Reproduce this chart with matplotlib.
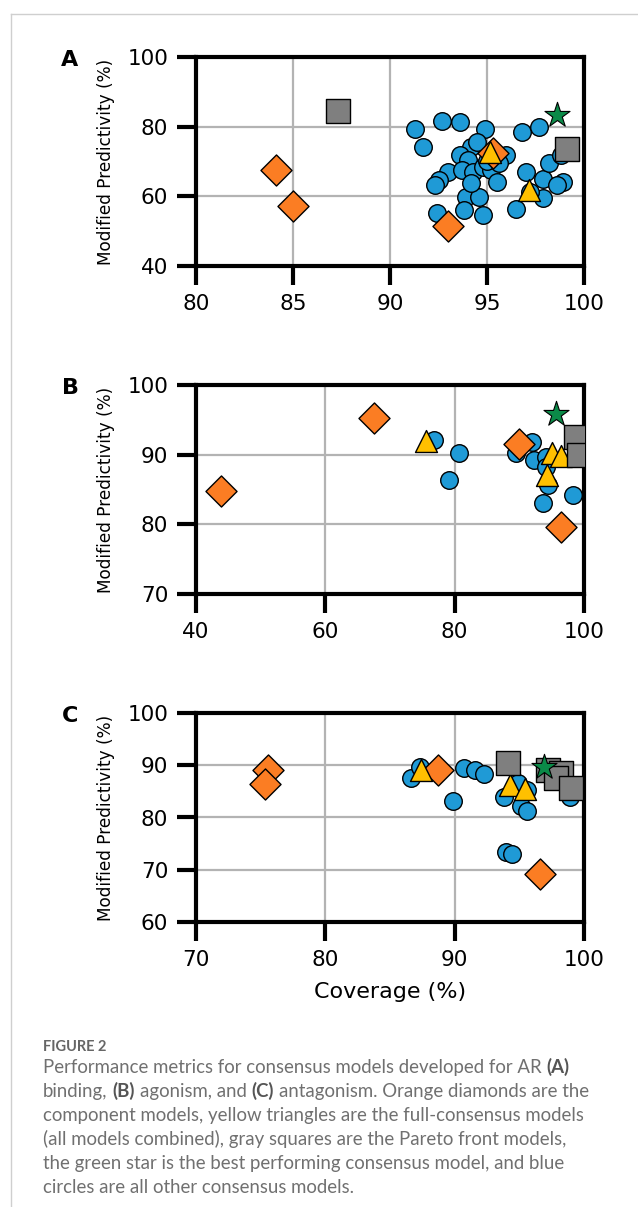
import matplotlib
matplotlib.use("Agg")
import matplotlib.pyplot as plt
from matplotlib.lines import Line2D

# ---- data: (coverage, modified predictivity) ----
# panel A : binding
a_other_x = [91.3, 91.7, 92.7, 93.6, 94.9, 96.8, 97.7, 94.2, 94.5, 93.6, 94.0, 93.0, 93.7, 92.5,
             92.3, 94.3, 94.8, 95.2, 95.5, 96.0, 93.9, 94.6, 93.8, 94.8, 92.4, 94.2, 97.0, 97.9,
             98.2, 98.8, 98.9, 98.6, 97.9, 96.5, 97.2, 95.0, 95.6]
a_other_y = [79.2, 74.2, 81.7, 81.3, 79.2, 78.4, 80.0, 74.2, 75.7, 71.8, 70.4, 67.0, 67.5, 64.7,
             63.2, 67.0, 68.5, 67.5, 64.2, 71.8, 59.9, 59.9, 56.0, 54.6, 55.1, 63.7, 67.0, 64.9,
             69.5, 71.8, 64.2, 63.2, 59.4, 56.5, 61.3, 70.0, 69.5]
a_comp_x = [84.1, 85.0, 93.0, 95.3]
a_comp_y = [67.6, 57.3, 51.6, 72.3]
a_full_x = [95.15, 97.15]
a_full_y = [72.8, 61.8]
a_pareto_x = [87.3, 99.1]
a_pareto_y = [84.5, 73.5]
a_best_x = [98.6]
a_best_y = [83.3]

# panel B : agonism
b_other_x = [76.8, 80.6, 79.1, 92.0, 89.5, 92.3, 94.1, 94.1, 94.4, 93.6, 98.3]
b_other_y = [92.1, 90.2, 86.4, 91.8, 90.2, 89.2, 89.7, 88.2, 85.6, 83.1, 84.2]
b_comp_x = [43.8, 67.6, 89.9, 96.5]
b_comp_y = [84.8, 95.2, 91.5, 79.6]
b_full_x = [75.6, 95.0, 96.4, 94.3]
b_full_y = [91.9, 90.3, 89.8, 87.1]
b_pareto_x = [98.8, 99.3]
b_pareto_y = [92.5, 89.9]
b_best_x = [95.7]
b_best_y = [95.8]

# panel C : antagonism
c_other_x = [86.6, 87.35, 90.7, 91.6, 92.3, 89.9, 93.8, 95.1, 95.6, 95.6, 94.9, 98.9, 94.0, 94.4]
c_other_y = [87.6, 89.7, 89.5, 89.1, 88.3, 83.2, 84.0, 82.2, 81.3, 85.3, 86.6, 84.0, 73.4, 73.0]
c_comp_x = [75.6, 75.3, 88.7, 96.6]
c_comp_y = [89.0, 86.4, 89.0, 69.1]
c_full_x = [87.4, 94.3, 95.4]
c_full_y = [89.0, 86.2, 85.4]
c_pareto_x = [94.1, 97.2, 98.2, 97.8, 99.0]
c_pareto_y = [90.4, 89.1, 88.5, 87.5, 85.6]
c_best_x = [96.9]
c_best_y = [89.6]

panels = [
    ("A", (a_other_x, a_other_y), (a_comp_x, a_comp_y), (a_full_x, a_full_y),
     (a_pareto_x, a_pareto_y), (a_best_x, a_best_y),
     (80, 100), [80, 85, 90, 95, 100], (40, 100), [40, 60, 80, 100]),
    ("B", (b_other_x, b_other_y), (b_comp_x, b_comp_y), (b_full_x, b_full_y),
     (b_pareto_x, b_pareto_y), (b_best_x, b_best_y),
     (40, 100), [40, 60, 80, 100], (70, 100), [70, 80, 90, 100]),
    ("C", (c_other_x, c_other_y), (c_comp_x, c_comp_y), (c_full_x, c_full_y),
     (c_pareto_x, c_pareto_y), (c_best_x, c_best_y),
     (70, 100), [70, 80, 90, 100], (60, 100), [60, 70, 80, 90, 100]),
]

W, H = 638, 1207
fig = plt.figure(figsize=(W / 100, H / 100), dpi=100)

def px(x, y):
    return x / W, 1 - y / H

# axes boxes in pixels: left, top, right, bottom
boxes = [(196, 57, 584, 266), (196, 385, 584, 594), (196, 713, 584, 922)]

for (letter, other, comp, full, pareto, best, xl, xt, yl, yt), box in zip(panels, boxes):
    l, t, r, b = box
    ax = fig.add_axes([l / W, 1 - b / H, (r - l) / W, (b - t) / H])
    ax.set_axisbelow(True)
    ax.grid(True, color="#b3b3b3", lw=1.6)
    ax.scatter(*other, s=160, marker="o", color="#1f9ad6", edgecolor="black", lw=1, zorder=3)
    ax.scatter(*comp, s=250, marker="D", color="#fb7d23", edgecolor="black", lw=1, zorder=4)
    ax.scatter(*full, s=250, marker="^", color="#ffc000", edgecolor="black", lw=1, zorder=5)
    ax.scatter(*pareto, s=290, marker="s", color="#7f7f7f", edgecolor="black", lw=1, zorder=6)
    ax.scatter(*best, s=360, marker="*", color="#0b8a48", edgecolor="black", lw=0.8, zorder=7)
    ax.set_xlim(*xl)
    ax.set_ylim(*yl)
    ax.set_xticks(xt)
    ax.set_yticks(yt)
    for sp in ax.spines.values():
        sp.set_linewidth(3)
    ax.tick_params(length=14, width=3, labelsize=15.5, pad=6)
    ax.set_ylabel("Modified Predictivity (%)", fontsize=12.2, labelpad=9)
    fx, fy = px(70, t + 3)
    fig.text(fx, fy, letter, fontsize=16, fontweight="bold", ha="center", va="center")
    if letter == "C":
        ax.set_xlabel("Coverage (%)", fontsize=16, labelpad=9)

# page frame
fig.add_artist(Line2D([11 / W, 1], [1 - 14 / H] * 2, color="#cfcfcf", lw=1))
fig.add_artist(Line2D([11 / W] * 2, [0, 1 - 14 / H], color="#cfcfcf", lw=1))

# caption
cap_color = "#707070"
cap_font = "Lato"
fx, fy = px(43, 1051)
fig.text(fx, fy, "FIGURE 2", fontsize=10.5, family=cap_font, fontweight="bold",
         color="#666666", va="baseline")

cap_lines = [
    [("Performance metrics for consensus models developed for AR ", False), ("(A)", True)],
    [("binding, ", False), ("(B)", True), (" agonism, and ", False), ("(C)", True),
     (" antagonism. Orange diamonds are the", False)],
    [("component models, yellow triangles are the full-consensus models", False)],
    [("(all models combined), gray squares are the Pareto front models,", False)],
    [("the green star is the best performing consensus model, and blue", False)],
    [("circles are all other consensus models.", False)],
]
y0 = 1073
for i, segs in enumerate(cap_lines):
    fx, fy = px(43, y0 + i * 24)
    last = None
    last_trail = 0
    for txt, bold in segs:
        lead = len(txt) - len(txt.lstrip(" "))
        trail = len(txt) - len(txt.rstrip(" "))
        kw = dict(fontsize=13.4, family=cap_font,
                  color="#555555" if bold else cap_color,
                  fontweight="bold" if bold else "normal")
        if last is None:
            t = fig.text(fx, fy, txt.strip(), va="baseline", **kw)
        else:
            t = fig.add_artist(plt.Annotation(txt.strip(), xy=(1, 0), xycoords=last,
                                              xytext=(3.5 * (lead + last_trail), 0),
                                              textcoords="offset points",
                                              va="bottom", ha="left", **kw))
        last = t
        last_trail = trail

fig.savefig("out.png", dpi=100)
